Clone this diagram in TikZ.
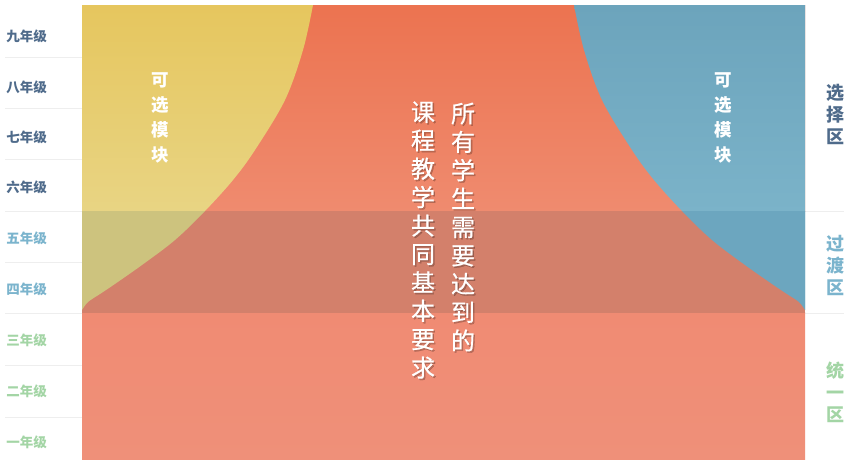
\documentclass[tikz,border=0pt]{standalone}
\usepackage{fontspec}
\newfontfamily\cjk{Noto Sans CJK SC}
\newfontfamily\cjkmain{Noto Sans CJK SC}[FakeBold=0.6]
\definecolor{ytop}{HTML}{E6C65E}
\definecolor{ybot}{HTML}{E9DB95}
\definecolor{btop}{HTML}{6CA4BC}
\definecolor{bbot}{HTML}{82BACF}
\definecolor{rtop}{HTML}{EC7350}
\definecolor{rmid}{HTML}{EF8B6F}
\definecolor{rlow}{HTML}{F08B73}
\definecolor{rbot}{HTML}{EF9079}
\definecolor{yband}{HTML}{CDC37E}
\definecolor{bband}{HTML}{6CA6BF}
\definecolor{rband}{HTML}{D3806B}
\definecolor{gridc}{HTML}{EEEEEE}
\definecolor{darkl}{HTML}{4F6B8B}
\definecolor{bluel}{HTML}{7BB4CD}
\definecolor{greenl}{HTML}{A3D5A5}
\newcommand\LeftShape{(82,5) -- (313,5) -- plot[smooth,tension=0.55] coordinates {(313,5) (303,50) (285,100) (255,150) (233,180) (205,211) (175,240) (142,265) (112,286) (100,294) (88,302) (82,310)} -- cycle}
\newcommand\RightShape{(805,5) -- (574,5) -- plot[smooth,tension=0.55] coordinates {(574,5) (584,50) (602,100) (632,150) (654,180) (682,211) (712,240) (745,265) (775,286) (787,294) (799,302) (805,310)} -- cycle}
\tikzset{
  grade/.style={font=\cjk\bfseries\fontsize{13.5}{16}\selectfont, inner sep=0pt},
  zone/.style={font=\cjk\bfseries\fontsize{18}{22}\selectfont, align=center, inner sep=0pt},
  opt/.style={font=\cjk\bfseries\fontsize{17.5}{25}\selectfont, align=center, inner sep=0pt, text=white},
  maintext/.style={font=\cjkmain\fontsize{24}{28.4}\selectfont, align=center, inner sep=0pt},
  gridline/.style={draw=gridc, line width=1pt}
}
\begin{document}
\begin{tikzpicture}[x=1pt,y=-1pt]
\useasboundingbox (0,0) rectangle (850,466);
\fill[white] (0,0) rectangle (850,466);
% grid lines
\foreach \yy in {57,108,159,211,262,313,365,417} {
  \draw[gridline] (5,\yy) -- (82,\yy);
}
\draw[gridline] (805,211) -- (844,211);
\draw[gridline] (805,313) -- (844,313);
% common region (background)
\fill[top color=rtop, bottom color=rmid] (82,5) rectangle (805,211.5);
\fill[top color=rlow, bottom color=rbot] (82,312.5) rectangle (805,459.5);
% optional regions
\shade[top color=ytop, bottom color=ybot] \LeftShape;
\shade[top color=btop, bottom color=bbot] \RightShape;
% transition band
\begin{scope}
  \clip (82,211) rectangle (805,313);
  \fill[rband] (82,211) rectangle (805,313);
  \fill[yband] \LeftShape;
  \fill[bband] \RightShape;
\end{scope}
% grade labels
\node[grade, text=darkl] (g9) at (26.5,36) {九年级};
\node[grade, text=darkl] (g8) at (26.5,87) {八年级};
\node[grade, text=darkl] (g7) at (26.5,137) {七年级};
\node[grade, text=darkl] (g6) at (26.5,187) {六年级};
\node[grade, text=bluel] (g5) at (26.5,238) {五年级};
\node[grade, text=bluel] (g4) at (26.5,289) {四年级};
\node[grade, text=greenl] (g3) at (26.5,340) {三年级};
\node[grade, text=greenl] (g2) at (26.5,391) {二年级};
\node[grade, text=greenl] (g1) at (26.5,442) {一年级};
% zone labels
\node[zone, text=darkl] (z1) at (835,114) {选\\择\\区};
\node[zone, text=bluel] (z2) at (835,265) {过\\渡\\区};
\node[zone, text=greenl] (z3) at (835,392) {统\\一\\区};
% optional module labels
\node[opt] (optl) at (160,118) {可\\选\\模\\块};
\node[opt] (optr) at (723,118) {可\\选\\模\\块};
% main text with shadow
\node[maintext, text=black, text opacity=0.22] (m1s) at (464.5,228.5) {所\\有\\学\\生\\需\\要\\达\\到\\的};
\node[maintext, text=black, text opacity=0.22] (m2s) at (424.5,241.5) {课\\程\\教\\学\\共\\同\\基\\本\\要\\求};
\node[maintext, text=white] (m1) at (463,227) {所\\有\\学\\生\\需\\要\\达\\到\\的};
\node[maintext, text=white] (m2) at (423,240) {课\\程\\教\\学\\共\\同\\基\\本\\要\\求};
\end{tikzpicture}
\end{document}
